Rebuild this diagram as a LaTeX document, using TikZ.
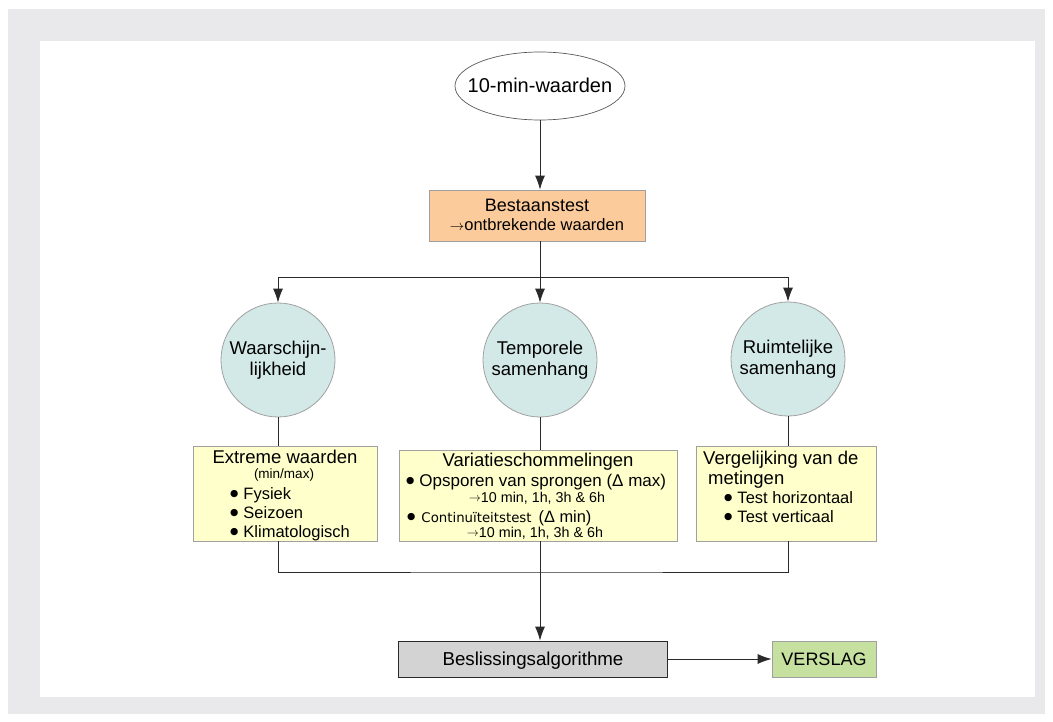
\documentclass[tikz,border=0pt]{standalone}
\usepackage{fontspec}
\setmainfont{Liberation Sans}
\newfontfamily\dejavu{DejaVu Sans}
\usetikzlibrary{shapes.geometric,arrows.meta}
\definecolor{framegray}{HTML}{E9E9EB}
\definecolor{peach}{HTML}{FCCB9C}
\definecolor{cyanfill}{HTML}{D3E9E8}
\definecolor{yellowfill}{HTML}{FFFFCC}
\definecolor{grayfill}{HTML}{D3D3D3}
\definecolor{greenfill}{HTML}{C6E0A0}
\definecolor{edgegray}{HTML}{A0A0A0}
\definecolor{linecol}{HTML}{2A2A2A}
\newcommand{\fs}[2]{\fontsize{#1}{#2}\selectfont}
\newcommand{\bul}{\raisebox{2.5pt}{\dejavu\fs{9.5}{12}●}}
\newcommand{\arw}{\raisebox{0.5pt}{$\rightarrow$}}
\tikzset{
  boxbase/.style={draw=edgegray, line width=0.8pt, inner sep=0pt},
  peachbox/.style={boxbase, fill=peach},
  ybox/.style={boxbase, fill=yellowfill},
  topic/.style={circle, boxbase, fill=cyanfill, minimum size=114pt, align=center, font=\fs{18.5}{21}},
  txt/.style={inner sep=0pt, anchor=base},
  ltxt/.style={inner sep=0pt, anchor=base west},
  conn/.style={draw=linecol, line width=0.9pt},
  arr/.style={conn, -{Latex[length=14pt,width=10pt]}},
}
\begin{document}
\begin{tikzpicture}[x=1pt,y=-1pt]
\useasboundingbox (0,0) rectangle (1053,722);
\fill[framegray] (8,9) rectangle (1045,714);
\fill[white] (40,41) rectangle (1035,697);

% top
\node[ellipse, draw=black!65, line width=0.7pt, fill=white, inner sep=0pt, minimum width=170pt, minimum height=68pt] (src) at (540,86) {};
\node[txt, font=\fs{20}{24}] (srct) at (540,93) {10-min-waarden};
\node[peachbox, minimum width=216pt, minimum height=51pt] (bt) at (537,215.5) {};
\node[txt, font=\fs{18}{20}] (bt1) at (537,212) {Bestaanstest};
\node[txt, font=\fs{16.5}{19}] (bt2) at (537,231) {{\fs{14}{16}\arw}ontbrekende waarden};

% circles
\node[topic] (c1) at (278,360) {Waarschijn-\\lijkheid};
\node[topic] (c2) at (540,360) {Temporele\\samenhang};
\node[topic] (c3) at (788,359) {Ruimtelijke\\samenhang};

% yellow boxes
\node[ybox, minimum width=184pt, minimum height=95pt] (b1) at (285,493.5) {};
\node[ybox, minimum width=278pt, minimum height=91pt] (b2) at (538,495.5) {};
\node[ybox, minimum width=180pt, minimum height=95pt] (b3) at (786,493.5) {};

% texts box 1
\node[txt, font=\fs{18.5}{21}] (t11) at (285,463) {Extreme waarden};
\node[txt, font=\fs{13.5}{15}] (t12) at (284,478) {(min/max)};
\node[ltxt, font=\fs{16.5}{19}] (t13) at (230,499) {\bul\hspace{5pt}Fysiek};
\node[ltxt, font=\fs{16.5}{19}] (t14) at (230,518) {\bul\hspace{5pt}Seizoen};
\node[ltxt, font=\fs{16.5}{19}] (t15) at (230,537) {\bul\hspace{5pt}Klimatologisch};

% texts box 2
\node[txt, font=\fs{18.5}{21}] (t21) at (538,466) {Variatieschommelingen};
\node[ltxt, font=\fs{17}{19}] (t22) at (406,486) {\bul\hspace{5pt}Opsporen van sprongen (Δ max)};
\node[txt, font=\fs{14.3}{16}] (t23) at (537,502) {{\fs{12}{14}\arw}10 min, 1h, 3h \& 6h};
\node[ltxt, font=\fs{16.4}{19}] (t24) at (407,522) {\bul\hspace{6pt}\dejavu\fs{13.3}{16}Continuïteitstest\hspace{7pt}\rmfamily\fs{16.4}{19}(Δ min)};
\node[txt, font=\fs{14.3}{16}] (t25) at (535,537) {{\fs{12}{14}\arw}10 min, 1h, 3h \& 6h};

% texts box 3
\node[ltxt, font=\fs{18.5}{21}] (t31) at (703,464) {Vergelijking van de};
\node[ltxt, font=\fs{18.5}{21}] (t32) at (708,484) {metingen};
\node[ltxt, font=\fs{16.5}{19}] (t33) at (724,503) {\bul\hspace{5pt}Test horizontaal};
\node[ltxt, font=\fs{16.5}{19}] (t34) at (724,522) {\bul\hspace{5pt}Test verticaal};

% bottom boxes
\node[boxbase, draw=linecol, fill=grayfill, minimum width=269pt, minimum height=36pt] (bd) at (533,659) {};
\node[txt, font=\fs{18.7}{21}] (bdt) at (533,665) {Beslissingsalgorithme};
\node[boxbase, fill=greenfill, minimum width=104pt, minimum height=36pt] (vs) at (824,659) {};
\node[txt, font=\fs{18}{21}] (vst) at (824,665) {VERSLAG};

% connectors
\coordinate (j1) at (540,277);
\coordinate (j2) at (540,572);
\draw[arr] (src.south) -- (bt.north -| src);
\draw[conn] (bt.south -| j1) -- (j1);
\draw[arr] (j1) -| (c1.north);
\draw[arr] (j1) -- (c2.north);
\draw[arr] (j1) -| (c3.north);
\draw[conn] (c1.south) -- (c1.south |- b1.north);
\draw[conn] (c2.south) -- (c2.south |- b2.north);
\draw[conn] (c3.south) -- (c3.south |- b3.north);
\draw[conn] (c1.south |- b1.south) |- (j2) -| (c3.south |- b3.south);
\draw[arr] (b2.south -| j2) -- (bd.north -| j2);
\draw[arr] (bd.east) -- (vs.west);
\end{tikzpicture}
\end{document}
